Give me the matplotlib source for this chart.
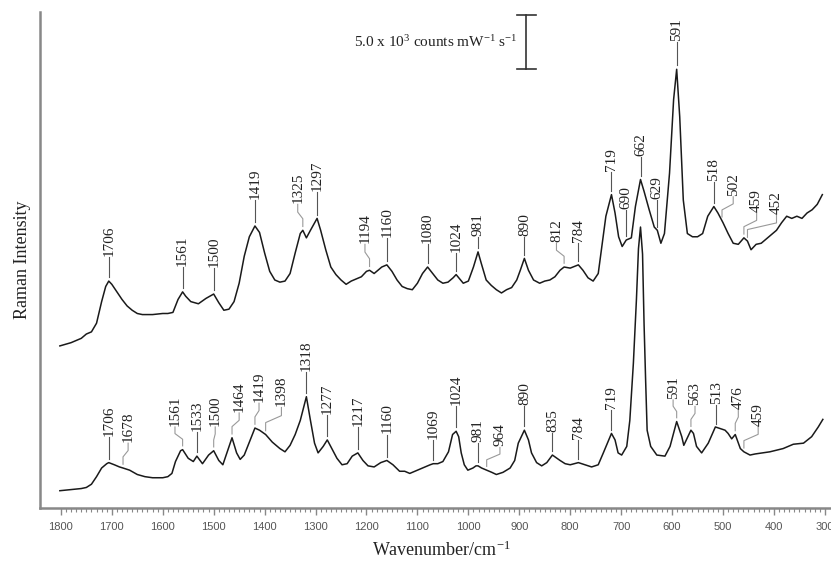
import numpy as np
import matplotlib
matplotlib.use('Agg')
import matplotlib.pyplot as plt

plt.rcParams['mathtext.fontset'] = 'custom'
plt.rcParams['mathtext.rm'] = 'Liberation Serif'
plt.rcParams['mathtext.it'] = 'Liberation Serif:italic'

# upper spectrum (intensity in 10^3 counts mW-1 s-1, offset)
top_wn = [1802, 1780, 1760, 1750, 1740, 1730, 1720, 1712, 1706, 1700, 1690, 1680, 1670, 1660, 1650,
          1640, 1620, 1600, 1590, 1580, 1570, 1561, 1555, 1545, 1530, 1515, 1500, 1490, 1480, 1470,
          1460, 1450, 1440, 1430, 1419, 1410, 1400, 1390, 1380, 1370, 1360, 1350, 1340, 1330, 1325,
          1318, 1310, 1297, 1290, 1280, 1270, 1260, 1250, 1240, 1230, 1220, 1210, 1200, 1194, 1185,
          1170, 1160, 1150, 1140, 1130, 1120, 1110, 1100, 1090, 1080, 1070, 1060, 1050, 1040, 1030,
          1024, 1010, 1000, 990, 981, 975, 965, 955, 945, 935, 925, 915, 905, 898, 890,
          882, 872, 860, 850, 840, 830, 820, 812, 800, 784, 775, 765, 755, 745, 738,
          730, 719, 712, 705, 698, 690, 680, 672, 662, 655, 645, 635, 629, 622, 615,
          605, 597, 591, 585, 578, 570, 560, 550, 540, 530, 518, 510, 500, 490, 480,
          470, 459, 452, 445, 435, 425, 415, 405, 395, 385, 375, 365, 355, 345, 335,
          325, 315, 305]
top_int = [15.0, 15.3, 15.7, 16.1, 16.3, 17.1, 19.1, 20.5, 21.0, 20.7, 20.0, 19.3, 18.7, 18.3, 18.0,
           17.9, 17.9, 18.0, 18.0, 18.1, 19.3, 20.0, 19.6, 19.1, 18.9, 19.4, 19.8, 19.0, 18.3, 18.4,
           19.1, 20.8, 23.3, 25.1, 26.1, 25.5, 23.6, 21.9, 21.1, 20.9, 21.0, 21.7, 23.6, 25.4, 25.7,
           25.0, 25.7, 26.8, 25.7, 23.9, 22.3, 21.6, 21.1, 20.7, 21.0, 21.2, 21.4, 21.9, 22.0, 21.7,
           22.3, 22.5, 21.9, 21.1, 20.5, 20.3, 20.2, 20.8, 21.7, 22.3, 21.7, 21.1, 20.8, 20.9, 21.3,
           21.6, 20.8, 21.0, 22.3, 23.7, 22.7, 21.1, 20.6, 20.2, 19.9, 20.2, 20.4, 21.1, 22.0, 23.1,
           22.0, 21.1, 20.8, 21.0, 21.1, 21.4, 22.0, 22.3, 22.2, 22.5, 22.0, 21.3, 21.0, 21.7, 24.2,
           27.0, 29.0, 27.3, 25.1, 24.2, 24.8, 25.0, 27.9, 30.4, 29.3, 27.6, 26.0, 25.7, 24.5, 25.4,
           31.0, 37.8, 40.6, 36.2, 28.5, 25.4, 25.1, 25.1, 25.4, 27.0, 27.9, 27.3, 26.4, 25.4, 24.5,
           24.4, 25.0, 24.7, 23.9, 24.4, 24.5, 24.9, 25.3, 25.7, 26.4, 27.0, 26.8, 27.0, 26.8, 27.3,
           27.6, 28.1, 29.0]

# lower spectrum
bot_wn = [1802, 1780, 1760, 1750, 1740, 1730, 1720, 1710, 1706, 1695, 1685, 1678, 1665, 1650, 1635,
          1620, 1600, 1590, 1582, 1575, 1565, 1561, 1550, 1540, 1533, 1522, 1510, 1500, 1490, 1482,
          1472, 1464, 1455, 1448, 1440, 1430, 1419, 1410, 1398, 1385, 1370, 1360, 1350, 1340, 1330,
          1318, 1310, 1302, 1295, 1285, 1277, 1268, 1258, 1248, 1238, 1228, 1217, 1207, 1197, 1185,
          1172, 1160, 1148, 1135, 1125, 1115, 1105, 1095, 1085, 1075, 1069, 1060, 1050, 1039, 1031,
          1024, 1019, 1014, 1008, 1001, 991, 985, 981, 974, 964, 954, 945, 932, 918, 909,
          902, 890, 882, 876, 866, 856, 846, 835, 820, 810, 800, 784, 771, 758, 745,
          735, 719, 712, 706, 699, 689, 683, 676, 670, 666, 662, 658, 655, 652, 649,
          642, 630, 614, 604, 591, 581, 577, 563, 558, 552, 542, 529, 515, 496, 490,
          483, 476, 466, 459, 447, 437, 408, 382, 362, 342, 326, 313, 304]
bot_int = [1.6, 1.7, 1.8, 1.9, 2.2, 2.9, 3.7, 4.1, 4.2, 4.0, 3.8, 3.7, 3.5, 3.1, 2.9,
           2.8, 2.8, 2.9, 3.2, 4.3, 5.3, 5.4, 4.6, 4.3, 4.8, 4.1, 4.9, 5.3, 4.4, 4.0,
           5.4, 6.5, 5.1, 4.5, 4.9, 6.1, 7.4, 7.2, 6.8, 6.1, 5.5, 5.2, 5.8, 6.8, 8.1,
           10.3, 8.1, 6.0, 5.1, 5.7, 6.3, 5.5, 4.6, 4.0, 4.1, 4.8, 5.1, 4.4, 3.9, 3.8,
           4.2, 4.4, 4.0, 3.4, 3.4, 3.2, 3.4, 3.6, 3.8, 4.0, 4.1, 4.1, 4.3, 5.2, 6.8,
           7.1, 6.6, 5.1, 4.0, 3.5, 3.7, 3.9, 3.9, 3.7, 3.5, 3.3, 3.1, 3.3, 3.7, 4.4,
           6.0, 7.2, 6.3, 5.1, 4.2, 3.9, 4.2, 4.9, 4.4, 4.1, 4.0, 4.2, 4.0, 3.8, 4.0,
           5.1, 6.9, 6.3, 5.1, 4.9, 5.7, 8.1, 13.4, 19.3, 24.0, 26.0, 23.5, 17.0, 11.9, 7.2,
           5.7, 4.9, 4.8, 5.7, 8.0, 6.6, 5.8, 7.2, 6.9, 5.7, 5.1, 6.0, 7.5, 7.2, 6.9,
           6.4, 6.8, 5.5, 5.2, 4.9, 5.0, 5.2, 5.5, 5.9, 6.0, 6.6, 7.5, 8.2]

# peak labels: (label, text position in cm-1 or None if straight above peak, text base height)
top_labels = [('1706', None, 23.2), ('1561', None, 22.3), ('1500', None, 22.2),
              ('1419', None, 28.5), ('1325', 1335, 28.1), ('1297', None, 29.2),
              ('1194', 1203, 24.4), ('1160', None, 25.0), ('1080', None, 24.4),
              ('1024', None, 23.6), ('981', None, 25.1), ('890', None, 25.1),
              ('812', 827, 24.5), ('784', None, 24.5), ('719', None, 31.1),
              ('690', None, 27.6), ('662', None, 32.5), ('629', None, 28.5),
              ('591', None, 43.1), ('518', None, 30.2), ('502', 480, 28.8),
              ('459', 434, 27.3), ('452', 395, 27.1)]
bot_labels = [('1706', None, 6.6), ('1678', 1668, 6.0), ('1561', 1576, 7.5),
              ('1533', None, 7.0), ('1500', 1497, 7.5), ('1464', 1450, 8.8),
              ('1419', 1411, 9.7), ('1398', 1367, 9.3), ('1318', None, 12.6),
              ('1277', None, 8.6), ('1217', None, 7.5), ('1160', None, 6.8),
              ('1069', None, 6.3), ('1024', None, 9.4), ('981', None, 6.0),
              ('964', 938, 5.6), ('890', None, 9.4), ('835', None, 6.9),
              ('784', None, 6.3), ('719', None, 9.1), ('591', 598, 10.0),
              ('563', 555, 9.4), ('513', None, 9.5), ('476', 470, 9.1),
              ('459', 431, 7.5)]

scale_value = 5.0  # 10^3 counts mW-1 s-1

serif = 'Liberation Serif'


def add_labels(ax, wn, inten, labels):
    wn = np.asarray(wn)[::-1]
    inten = np.asarray(inten)[::-1]
    for text, tx, ty in labels:
        pw = float(text)
        py = np.interp(pw, wn, inten) + 0.35
        h = ty - py
        if tx is None:
            tx = pw
            ax.plot([pw, pw], [py, ty], color='#555555', lw=0.8)
        else:
            ax.plot([pw, pw, tx, tx], [py, py + 0.35 * h, ty - 0.35 * h, ty],
                    color='#999999', lw=0.8)
        ax.text(tx, ty + 0.1, text, rotation=90, ha='center', va='bottom',
                fontsize=11, family=serif, color='#222222')


fig = plt.figure(figsize=(8.31, 5.61), dpi=100)
ax = fig.add_axes([40 / 831, 53 / 561, 791 / 831, 496 / 561])

ax.plot(top_wn, top_int, color='#1a1a1a', lw=1.1)
ax.plot(bot_wn, bot_int, color='#1a1a1a', lw=1.1)
add_labels(ax, top_wn, top_int, top_labels)
add_labels(ax, bot_wn, bot_int, bot_labels)

# scale bar
bar_x, bar_y0, cap = 886, 40.6, 18
ax.plot([bar_x, bar_x], [bar_y0, bar_y0 + scale_value], color='#333333', lw=1.2)
ax.plot([bar_x + cap, bar_x - cap], [bar_y0, bar_y0], color='#333333', lw=1.2)
ax.plot([bar_x + cap, bar_x - cap], [bar_y0 + scale_value] * 2, color='#333333', lw=1.2)
ax.text(903, bar_y0 + scale_value / 2, r'5.0 x 10$^{3}$ counts mW$^{-1}$ s$^{-1}$',
        ha='right', va='center', fontsize=11, family=serif, color='#222222')

ax.set_xlim(1841, 288)
ax.set_ylim(0, 45.9)
ax.set_xticks(np.arange(1800, 299, -100))
ax.set_xticks(np.arange(1800, 299, -10), minor=True)
ax.set_yticks([])
for side in ['top', 'right']:
    ax.spines[side].set_visible(False)
for side in ['left', 'bottom']:
    ax.spines[side].set_color('#888888')
    ax.spines[side].set_linewidth(1.8)
ax.tick_params(axis='x', which='major', length=5, width=1, color='#888888',
               labelsize=8, labelcolor='#555555', pad=5)
ax.tick_params(axis='x', which='minor', length=3, width=0.8, color='#888888')
for lbl in ax.get_xticklabels():
    lbl.set_family('Liberation Sans')

ax.set_xlabel('Wavenumber/cm$^{-1}$', fontsize=13, family=serif, color='#222222')
ax.xaxis.set_label_coords(0.507, -0.066)
ax.set_ylabel('Raman Intensity', fontsize=13, family=serif, color='#222222')
ax.yaxis.set_label_coords(-0.011, 0.5)

fig.savefig('out.png', dpi=100)
